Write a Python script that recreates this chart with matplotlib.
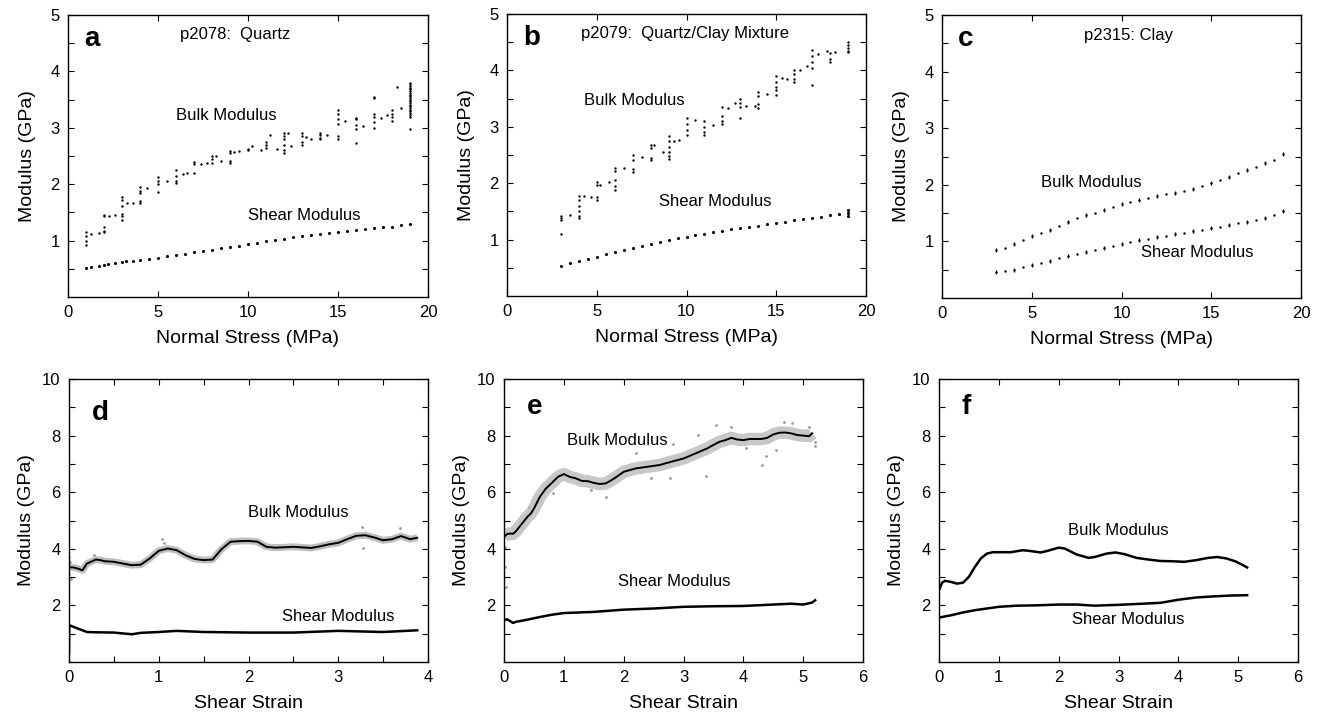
import matplotlib
matplotlib.use("Agg")
import matplotlib.pyplot as plt
import numpy as np

plt.rcParams['font.family'] = ['Liberation Sans', 'DejaVu Sans']

# ---------------- Panel a : p2078 Quartz ----------------
a_bulk_x = [1, 1.25, 1.7, 2, 2.3, 2.6, 3, 3.3, 3.6, 4, 4.4, 5, 5.5, 6, 6.4, 6.6, 7, 7.4, 7.7,
            8, 8.2, 8.5, 9, 9.2, 9.5, 10, 10.2, 10.7, 11, 11.2, 11.6, 12, 12.2, 12.4, 13, 13.2,
            13.5, 14, 14.4, 15, 15.4, 16, 16.4, 17, 17.4, 17.7, 18, 18.3, 18.5, 19]
a_bulk_y = [[1.16, 1.08, 1.00, 0.93], [1.11], [1.14], [1.46, 1.43, 1.25, 1.17, 1.15], [1.43], [1.46],
            [1.78, 1.72, 1.62, 1.48, 1.43, 1.37], [1.66], [1.67], [1.95, 1.88, 1.85, 1.70, 1.66], [1.93],
            [2.12, 2.06, 2.00, 1.87], [2.05], [2.25, 2.15, 2.05, 2.02], [2.18], [2.19],
            [2.40, 2.35, 2.20], [2.35], [2.37], [2.50, 2.45, 2.38], [2.50], [2.41],
            [2.58, 2.55, 2.42, 2.38], [2.57], [2.58], [2.62, 2.60], [2.67], [2.60],
            [2.75, 2.70, 2.64], [2.87], [2.62], [2.90, 2.85, 2.80, 2.70, 2.60, 2.55], [2.90], [2.67],
            [2.90, 2.85, 2.75, 2.70], [2.84], [2.81], [2.91, 2.87, 2.82, 2.80], [2.88],
            [3.32, 3.25, 3.15, 3.07, 2.85, 2.80], [3.12], [3.17, 3.15, 3.05, 2.97, 2.73], [3.03],
            [3.55, 3.52, 3.25, 3.20, 3.10, 3.00], [3.18], [3.22], [3.31, 3.25, 3.20, 3.12], [3.73], [3.35],
            [3.80, 3.77, 3.74, 3.71, 3.68, 3.65, 3.62, 3.59, 3.56, 3.53, 3.50, 3.47, 3.44, 3.41,
             3.38, 3.35, 3.32, 3.29, 3.26, 3.23, 3.20, 2.98]]
a_shear_x = [1, 1.3, 1.7, 2, 2.2, 2.6, 3, 3.2, 3.6, 4, 4.5, 5, 5.5, 6, 6.5, 7, 7.5, 8, 8.5, 9, 9.5,
             10, 10.5, 11, 11.5, 12, 12.5, 13, 13.5, 14, 14.5, 15, 15.5, 16, 16.5, 17, 17.5, 18, 18.5, 19]
a_shear_y = [0.52, 0.54, 0.55, 0.57, 0.58, 0.60, 0.62, 0.63, 0.64, 0.66, 0.68, 0.70, 0.72, 0.75, 0.77,
             0.79, 0.81, 0.84, 0.86, 0.89, 0.91, 0.94, 0.96, 0.99, 1.01, 1.03, 1.06, 1.08, 1.10, 1.12,
             1.14, 1.16, 1.17, 1.19, 1.21, 1.22, 1.24, 1.25, 1.27, 1.29]

# ---------------- Panel b : p2079 Quartz/Clay ----------------
b_bulk_x = [3, 3.5, 4, 4.3, 4.7, 5, 5.2, 5.7, 6, 6.5, 7, 7.5, 8, 8.2, 8.7, 9, 9.3, 9.6, 10, 10.5,
            11, 11.5, 12, 12.3, 12.7, 13, 13.3, 13.8, 14, 14.5, 15, 15.3, 15.6, 16, 16.3, 16.7,
            17, 17.3, 17.8, 18, 18.3, 19]
b_bulk_y = [[1.41, 1.38, 1.35, 1.10], [1.44], [1.77, 1.70, 1.60, 1.50, 1.42, 1.38], [1.77], [1.76],
            [2.02, 1.97, 1.75, 1.70], [1.96], [2.02], [2.27, 2.22, 2.05, 1.95, 1.88], [2.27],
            [2.50, 2.42, 2.25, 2.20], [2.47], [2.67, 2.62, 2.45, 2.42], [2.67], [2.56],
            [2.84, 2.75, 2.65, 2.55, 2.48, 2.43], [2.74], [2.77], [3.15, 3.05, 2.95, 2.85], [3.12],
            [3.10, 3.00, 2.90, 2.85], [3.04], [3.35, 3.20, 3.10, 3.05], [3.33], [3.43],
            [3.50, 3.43, 3.35, 3.15], [3.37], [3.37], [3.62, 3.55, 3.40, 3.33], [3.59],
            [3.90, 3.80, 3.70, 3.65, 3.57], [3.86], [3.84], [4.00, 3.93, 3.85, 3.80], [4.00], [4.08],
            [4.36, 4.25, 4.15, 4.05, 3.75], [4.29], [4.34], [4.30, 4.20, 4.15], [4.32],
            [4.50, 4.45, 4.40, 4.35, 4.32]]
b_shear_x = [3, 3.5, 4, 4.5, 5, 5.5, 6, 6.5, 7, 7.5, 8, 8.5, 9, 9.5, 10, 10.5, 11, 11.5, 12, 12.5,
             13, 13.5, 14, 14.5, 15, 15.5, 16, 16.5, 17, 17.5, 18, 18.5, 19, 19, 19]
b_shear_y = [0.54, 0.58, 0.62, 0.66, 0.70, 0.74, 0.78, 0.81, 0.85, 0.88, 0.92, 0.95, 0.99, 1.02,
             1.05, 1.08, 1.10, 1.13, 1.16, 1.18, 1.20, 1.22, 1.25, 1.27, 1.29, 1.31, 1.34, 1.36,
             1.38, 1.40, 1.43, 1.45, 1.48, 1.42, 1.52]

# ---------------- Panel c : p2315 Clay ----------------
c_x = [3, 3.5, 4, 4.5, 5, 5.5, 6, 6.5, 7, 7.5, 8, 8.5, 9, 9.5, 10, 10.5, 11, 11.5, 12, 12.5,
       13, 13.5, 14, 14.5, 15, 15.5, 16, 16.5, 17, 17.5, 18, 18.5, 19]
c_bulk_y = [0.85, 0.88, 0.95, 1.02, 1.09, 1.15, 1.21, 1.28, 1.35, 1.41, 1.46, 1.51, 1.55, 1.61,
            1.66, 1.70, 1.74, 1.77, 1.80, 1.83, 1.86, 1.89, 1.93, 1.98, 2.03, 2.09, 2.14, 2.20,
            2.26, 2.32, 2.38, 2.44, 2.55]
c_shear_y = [0.46, 0.48, 0.50, 0.55, 0.58, 0.62, 0.66, 0.70, 0.74, 0.77, 0.81, 0.85, 0.88, 0.92,
             0.96, 0.99, 1.02, 1.05, 1.08, 1.10, 1.13, 1.15, 1.18, 1.20, 1.23, 1.26, 1.29, 1.32,
             1.35, 1.38, 1.42, 1.46, 1.54]

# ---------------- Panel d ----------------
d_bulk_x = [0, 0.05, 0.1, 0.15, 0.2, 0.3, 0.35, 0.4, 0.5, 0.6, 0.7, 0.8, 0.9, 1.0, 1.1, 1.2, 1.3,
            1.4, 1.5, 1.6, 1.7, 1.8, 1.9, 2.0, 2.1, 2.2, 2.3, 2.5, 2.7, 2.8, 2.9, 3.0, 3.1, 3.2,
            3.3, 3.4, 3.5, 3.6, 3.7, 3.8, 3.88]
d_bulk_y = [3.35, 3.34, 3.30, 3.24, 3.48, 3.62, 3.60, 3.56, 3.54, 3.48, 3.42, 3.44, 3.66, 3.93,
            4.01, 3.95, 3.77, 3.64, 3.60, 3.62, 3.99, 4.25, 4.27, 4.28, 4.25, 4.07, 4.04, 4.07,
            4.03, 4.09, 4.16, 4.21, 4.34, 4.46, 4.48, 4.40, 4.30, 4.34, 4.45, 4.34, 4.39]
d_out_x = [0.0, 0.0, 0.01, 0.28, 1.04, 1.06, 3.26, 3.28, 3.69, 0.02]
d_out_y = [3.70, 3.10, 3.55, 3.78, 4.34, 4.20, 4.78, 4.03, 4.72, 2.95]
d_shear_x = [0, 0.003, 0.1, 0.2, 0.3, 0.5, 0.7, 0.8, 1.0, 1.2, 1.5, 2.0, 2.5, 3.0, 3.5, 3.88]
d_shear_y = [0.3, 1.30, 1.18, 1.06, 1.05, 1.04, 0.98, 1.03, 1.06, 1.10, 1.06, 1.04, 1.04, 1.10,
             1.06, 1.12]

# ---------------- Panel e ----------------
e_bulk_x = [0, 0.05, 0.1, 0.15, 0.2, 0.3, 0.4, 0.45, 0.5, 0.6, 0.7, 0.8, 0.9, 1.0, 1.1, 1.2, 1.3,
            1.4, 1.5, 1.6, 1.7, 1.8, 1.9, 2.0, 2.2, 2.4, 2.6, 2.8, 3.0, 3.2, 3.4, 3.5, 3.6, 3.7,
            3.8, 3.9, 4.0, 4.1, 4.3, 4.4, 4.5, 4.6, 4.7, 4.8, 4.9, 5.0, 5.1, 5.15]
e_bulk_y = [4.42, 4.52, 4.54, 4.53, 4.62, 4.89, 5.15, 5.25, 5.42, 5.84, 6.13, 6.33, 6.54, 6.64,
            6.54, 6.49, 6.40, 6.39, 6.33, 6.29, 6.31, 6.43, 6.57, 6.72, 6.84, 6.90, 6.96, 7.08,
            7.19, 7.37, 7.55, 7.67, 7.78, 7.84, 7.92, 7.86, 7.84, 7.88, 7.88, 7.92, 8.04, 8.10,
            8.11, 8.08, 8.02, 8.00, 7.98, 8.08]
e_out_x = [3.24, 2.82, 2.20, 4.31, 3.38, 2.46, 2.77, 1.71, 1.46, 0.82, 0.41, 4.38, 4.68, 3.54,
           0.04, 0.02, 0.02, 5.20, 5.20, 4.82, 5.10, 3.80, 4.04, 4.54]
e_out_y = [8.02, 7.72, 7.37, 6.96, 6.57, 6.49, 6.49, 5.84, 6.07, 5.96, 5.48, 7.28, 8.49, 8.37,
           2.65, 3.36, 4.07, 7.63, 7.78, 8.43, 8.31, 8.31, 7.55, 7.49]
e_shear_x = [0, 0.05, 0.1, 0.15, 0.2, 0.4, 0.6, 0.8, 1.0, 1.5, 2.0, 2.5, 3.0, 3.5, 4.0, 4.5, 4.8,
             5.0, 5.15, 5.2]
e_shear_y = [1.47, 1.51, 1.45, 1.38, 1.42, 1.50, 1.59, 1.67, 1.73, 1.77, 1.85, 1.89, 1.95, 1.97,
             1.98, 2.03, 2.06, 2.03, 2.10, 2.18]

# ---------------- Panel f ----------------
f_bulk_x = [0, 0.05, 0.1, 0.2, 0.3, 0.4, 0.5, 0.6, 0.7, 0.8, 0.9, 1.0, 1.2, 1.4, 1.5, 1.7, 1.8,
            2.0, 2.1, 2.3, 2.5, 2.6, 2.8, 2.95, 3.1, 3.3, 3.5, 3.7, 3.9, 4.1, 4.3, 4.5, 4.65,
            4.8, 4.95, 5.1, 5.15]
f_bulk_y = [2.54, 2.80, 2.87, 2.83, 2.77, 2.80, 3.01, 3.36, 3.66, 3.83, 3.88, 3.88, 3.88, 3.95,
            3.93, 3.87, 3.92, 4.04, 4.01, 3.80, 3.68, 3.71, 3.83, 3.87, 3.81, 3.68, 3.62, 3.57,
            3.56, 3.54, 3.60, 3.68, 3.71, 3.66, 3.56, 3.40, 3.34]
f_shear_x = [0, 0.2, 0.4, 0.6, 0.8, 1.0, 1.3, 1.6, 2.0, 2.3, 2.6, 3.0, 3.4, 3.7, 4.0, 4.3, 4.6,
             4.9, 5.15]
f_shear_y = [1.57, 1.65, 1.75, 1.83, 1.89, 1.95, 1.99, 2.00, 2.03, 2.03, 1.99, 2.02, 2.06, 2.09,
             2.20, 2.28, 2.32, 2.35, 2.36]

TICK_FS = 12
LABEL_FS = 14
NOTE_FS = 12
LETTER_FS = 20

fig = plt.figure(figsize=(13.2, 7.14), dpi=100)
W, H = 1320, 714


def make_ax(l, t, r, b):
    return fig.add_axes([l / W, 1 - b / H, (r - l) / W, (b - t) / H])


def style(ax):
    for s in ax.spines.values():
        s.set_linewidth(1.0)
    ax.tick_params(which='both', direction='in', top=True, right=True, length=4, width=0.8,
                   labelsize=TICK_FS, pad=6)


def flat(xs, ys):
    fx, fy = [], []
    for x, yl in zip(xs, ys):
        for y in yl:
            fx.append(x)
            fy.append(y)
    return fx, fy


def top_panel(ax, letter, title, tx, ty, bx, by, sx, sy):
    ax.set_xlim(0, 20)
    ax.set_ylim(0, 5)
    ax.set_xticks([0, 5, 10, 15, 20])
    ax.set_yticks([1, 2, 3, 4, 5])
    ax.set_yticks(np.arange(0.5, 5, 1.0), minor=True)
    style(ax)
    ax.set_xlabel('Normal Stress (MPa)', fontsize=LABEL_FS, labelpad=7)
    ax.set_ylabel('Modulus (GPa)', fontsize=LABEL_FS, labelpad=10)
    ax.text(0.045, 0.915, letter, transform=ax.transAxes, fontsize=LETTER_FS,
            fontweight='bold', va='center', ha='left')
    ax.text(tx, ty, title, fontsize=NOTE_FS, va='center', ha='left')
    ax.text(bx, by, 'Bulk Modulus', fontsize=NOTE_FS, va='center', ha='left')
    ax.text(sx, sy, 'Shear Modulus', fontsize=NOTE_FS, va='center', ha='left')


def bottom_panel(ax, letter, xmax, bx, by, sx, sy, minor_half, ly):
    ax.set_xlim(0, xmax)
    ax.set_ylim(0, 10)
    ax.set_xticks(np.arange(0, xmax + 0.01, 1))
    if minor_half:
        ax.set_xticks(np.arange(0.5, xmax, 1), minor=True)
    ax.set_yticks([2, 4, 6, 8, 10])
    ax.set_yticks(np.arange(1, 10, 2), minor=True)
    style(ax)
    ax.set_xlabel('Shear Strain', fontsize=LABEL_FS, labelpad=7)
    ax.set_ylabel('Modulus (GPa)', fontsize=LABEL_FS, labelpad=5)
    ax.text(0.063, ly, letter, transform=ax.transAxes, fontsize=LETTER_FS,
            fontweight='bold', va='center', ha='left')
    ax.text(bx, by, 'Bulk Modulus', fontsize=NOTE_FS, va='center', ha='left')
    ax.text(sx, sy, 'Shear Modulus', fontsize=NOTE_FS, va='center', ha='left')


# --- a ---
ax = make_ax(68, 15, 428, 297)
x, y = flat(a_bulk_x, a_bulk_y)
ax.scatter(x, y, s=3, c='black', lw=0)
ax.scatter(a_shear_x, a_shear_y, s=5, c='black', lw=0)
top_panel(ax, 'a', 'p2078:  Quartz', 6.2, 4.65, 6.0, 3.22, 10.0, 1.45)

# --- b ---
ax = make_ax(507, 14, 866, 296)
x, y = flat(b_bulk_x, b_bulk_y)
ax.scatter(x, y, s=3, c='black', lw=0)
ax.scatter(b_shear_x, b_shear_y, s=5, c='black', lw=0)
top_panel(ax, 'b', 'p2079:  Quartz/Clay Mixture', 4.15, 4.66, 4.3, 3.46, 8.46, 1.68)

# --- c ---
ax = make_ax(942, 15, 1301, 298)
ax.scatter(c_x, c_bulk_y, s=3, c='black', lw=0)
ax.scatter(c_x[::2], c_bulk_y[::2], s=9, c='black', marker='|', lw=0.9)
ax.scatter(c_x, c_shear_y, s=3, c='black', lw=0)
ax.scatter(c_x[::2], c_shear_y[::2], s=9, c='black', marker='|', lw=0.9)
top_panel(ax, 'c', 'p2315: Clay', 7.9, 4.63, 5.5, 2.04, 11.1, 0.8)

# --- d ---
ax = make_ax(69, 379, 428, 662)
ax.plot(d_bulk_x, d_bulk_y, color='#b0b0b0', lw=5, alpha=0.8, solid_capstyle='butt')
ax.scatter(d_out_x, d_out_y, s=4, c='#999999', lw=0)
ax.plot(d_bulk_x, d_bulk_y, color='black', lw=1.4)
ax.plot(d_shear_x, d_shear_y, color='black', lw=1.8)
bottom_panel(ax, 'd', 4, 1.99, 5.3, 2.37, 1.62, True, 0.88)

# --- e ---
ax = make_ax(504, 379, 863, 662)
ax.plot(e_bulk_x, e_bulk_y, color='#bbbbbb', lw=9, alpha=0.8, solid_capstyle='butt')
ax.scatter(e_out_x, e_out_y, s=4, c='#999999', lw=0)
ax.plot(e_bulk_x, e_bulk_y, color='black', lw=1.4)
ax.plot(e_shear_x, e_shear_y, color='black', lw=1.8)
bottom_panel(ax, 'e', 6, 1.06, 7.82, 1.9, 2.83, False, 0.9)

# --- f ---
ax = make_ax(939, 379, 1298, 662)
ax.plot(f_bulk_x, f_bulk_y, color='black', lw=1.8)
ax.plot(f_shear_x, f_shear_y, color='black', lw=1.8)
bottom_panel(ax, 'f', 6, 2.16, 4.66, 2.22, 1.5, False, 0.9)

fig.savefig('out.png', dpi=100)
